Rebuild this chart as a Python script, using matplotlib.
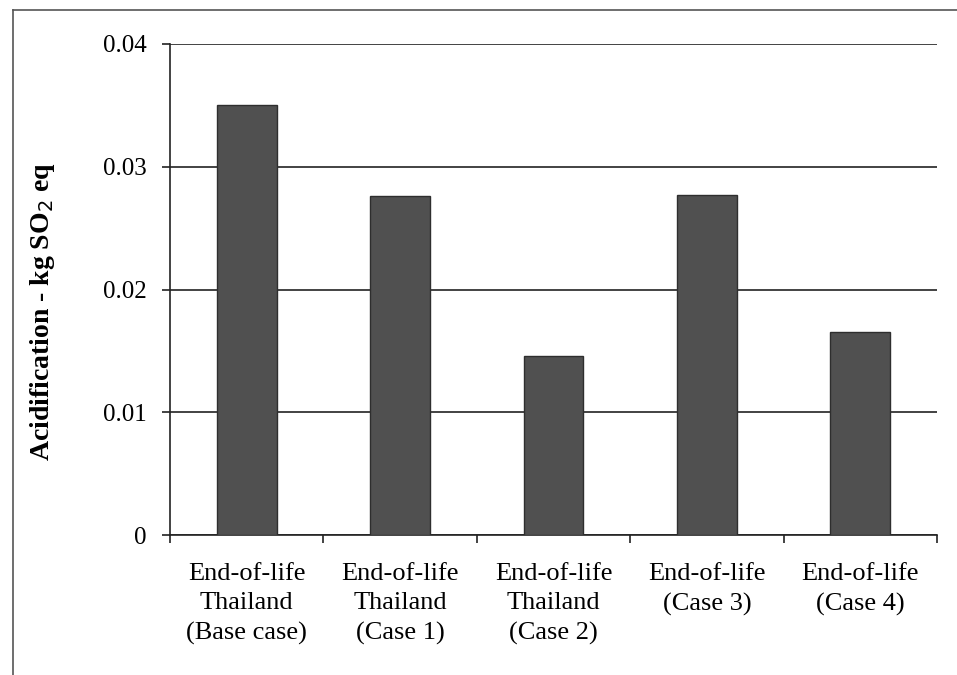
import matplotlib.pyplot as plt
from matplotlib.lines import Line2D

categories = ['End-of-life\nThailand\n(Base case)', 'End-of-life\nThailand\n(Case 1)',
              'End-of-life\nThailand\n(Case 2)', 'End-of-life\n(Case 3)', 'End-of-life\n(Case 4)']
acidification = [0.0350, 0.0276, 0.0146, 0.0277, 0.0165]
yticks = [0, 0.01, 0.02, 0.03, 0.04]
ytick_labels = ['0', '0.01', '0.02', '0.03', '0.04']

plt.rcParams['font.family'] = 'Liberation Serif'

W, H = 957, 675
fig = plt.figure(figsize=(W / 100, H / 100), dpi=100, facecolor='w')
ax = fig.add_axes([170 / W, 1 - 535 / H, (937 - 170) / W, (535 - 44) / H])

xpos = list(range(len(categories)))
ax.bar(xpos, acidification, width=0.39, color='#505050', edgecolor='#2e2e2e',
       linewidth=1.0, zorder=3)

ax.set_xlim(-0.5, len(categories) - 0.5)
ax.set_ylim(0, 0.04)
ax.set_yticks(yticks)
ax.set_yticklabels(ytick_labels)
ax.yaxis.grid(True, color='#222222', linewidth=1.2, zorder=0)
ax.set_axisbelow(True)

# category ticks sit between the bars
ax.set_xticks([p + 0.5 for p in [-1] + xpos])
ax.set_xticklabels([])
ax.set_xticks(xpos, minor=True)
ax.set_xticklabels(categories, minor=True, fontsize=19, linespacing=1.45)
ax.tick_params(axis='x', which='minor', length=0, pad=20)
ax.tick_params(axis='x', which='major', direction='out', length=6, width=1.2, color='#222222')
ax.tick_params(axis='y', direction='out', length=6, width=1.2, color='#222222',
               labelsize=18, pad=11)

for s in ['top', 'right']:
    ax.spines[s].set_visible(False)
for s in ['left', 'bottom']:
    ax.spines[s].set_linewidth(1.2)
    ax.spines[s].set_color('#222222')

ax.set_ylabel('Acidification - kg SO$_2$ eq', fontsize=20, fontweight='bold')
ax.yaxis.set_label_coords(-0.147, 0.454)

# outer frame of the figure
fig.add_artist(Line2D([13 / W, 1.0], [1 - 10 / H, 1 - 10 / H], transform=fig.transFigure,
                      color='#555555', linewidth=1.2))
fig.add_artist(Line2D([13 / W, 13 / W], [0.0, 1 - 10 / H], transform=fig.transFigure,
                      color='#555555', linewidth=1.2))

fig.savefig('out.png', dpi=100)
